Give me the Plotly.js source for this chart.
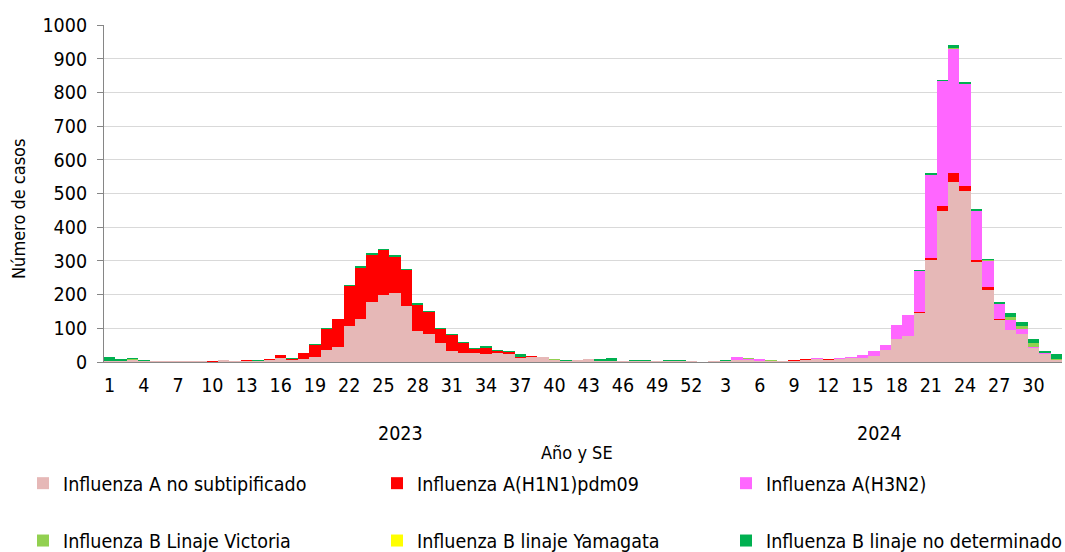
<!DOCTYPE html>
<html>
<head>
<meta charset="utf-8">
<script src="https://cdn.plot.ly/plotly-3.0.1.min.js"></script>
<style>html,body{margin:0;padding:0;background:#fff;}#chart{width:1065px;height:552px;}</style>
</head>
<body>
<div id="chart"></div>
<script>
// Semanas epidemiológicas (SE)
const semanas2023 = [1,2,3,4,5,6,7,8,9,10,11,12,13,14,15,16,17,18,19,20,21,22,23,24,25,26,27,28,29,30,31,32,33,34,35,36,37,38,39,40,41,42,43,44,45,46,47,48,49,50,51,52];
const semanas2024 = [1,2,3,4,5,6,7,8,9,10,11,12,13,14,15,16,17,18,19,20,21,22,23,24,25,26,27,28,29,30,31,32];
const anios = ["2023", "2024"];

// Series (número de casos)
const aNoSubtip = [4,3,7,3,3,3,2,2,2,1, 5,3,4,4,7,12,6,8,15,37, 45,107,128,177,199,205,167,93,82,57, 34,28,26,24,26,24,11,14,14,7, 4,5,8,2,4,2,3,3,2,4, 3,2,
                   1,2,3,5,5,4,4,2,4,7, 10,7,10,13,12,18,36,68,78,144, 302,448,533,507,298,214,124,96,84,42, 23,6];
const aH1N1 = [0,0,0,0,0,0,0,1,1,1, 0,1,2,0,2,8,4,19,36,61, 82,119,152,142,134,106,106,77,66,41, 47,28,13,18,7,6,3,4,0,0, 0,0,0,0,0,0,0,0,0,0, 0,0,
               0,0,0,0,0,0,0,0,1,1, 0,1,0,0,0,0,0,0,0,5, 7,15,27,15,5,8,4,0,0,0, 0,0];
const aH3N2 = [0,0,0,0,0,0,0,0,0,0, 0,0,0,0,0,0,0,0,0,0, 0,0,0,0,0,0,0,0,0,0, 0,0,0,0,0,0,0,0,0,0, 0,0,0,0,0,0,0,0,0,0, 0,0,
               0,0,0,10,5,4,0,1,1,0, 2,2,3,3,8,15,13,41,61,122, 246,371,370,303,145,78,43,28,14,3, 3,0];
const bVictoria = [0,0,1,0,0,0,0,0,0,0, 1,0,0,0,0,0,0,0,0,0, 0,0,0,0,0,0,0,0,0,0, 0,0,0,0,0,0,0,0,0,1, 0,1,0,0,0,0,0,0,0,0, 0,0,
                   0,0,0,0,2,0,2,0,0,0, 0,0,0,0,0,0,0,0,0,0, 0,0,3,0,0,2,1,10,8,10, 0,3];
const bYamagata = [0,0,0,0,0,0,0,0,0,0, 0,0,0,0,0,0,0,0,0,0, 0,0,0,0,0,0,0,0,0,0, 0,0,0,0,0,0,0,0,0,0, 0,0,0,0,0,0,0,0,0,0, 0,0,
                   0,0,0,0,0,0,0,0,0,0, 0,0,0,0,0,0,0,0,0,0, 0,0,0,0,0,0,0,0,0,0, 0,0];
const bNoDet = [11,6,3,3,1,1,1,0,0,1, 1,0,0,2,0,1,1,1,3,3, 2,2,6,4,2,6,3,4,3,4, 2,3,4,5,3,3,9,1,1,0, 1,0,1,7,9,2,4,4,2,2, 2,1,
                0,1,3,0,0,0,0,0,0,0, 0,0,0,0,0,0,0,2,1,2, 6,3,7,6,5,3,7,10,13,14, 7,16];

const seriesNames = ["Influenza A no subtipificado","Influenza A(H1N1)pdm09","Influenza A(H3N2)",
                     "Influenza B Linaje Victoria","Influenza B linaje Yamagata","Influenza B linaje no determinado"];
const seriesColors = ["#E6B8B7","#FF0000","#FF66FF","#92D050","#FFFF00","#00B050"];

// categorías
const cats = semanas2023.map(s => anios[0] + "-" + s).concat(semanas2024.map(s => anios[1] + "-" + s));
const weekLabels = semanas2023.concat(semanas2024);
const tickvals = [], ticktext = [];
for (let i = 0; i < cats.length; i += 3) { tickvals.push(cats[i]); ticktext.push(String(weekLabels[i])); }

const font = "DejaVu Sans Condensed, DejaVu Sans, sans-serif";
const fs = 19.5;
const legendIds = ["legend", "legend2", "legend3"];
const values = [aNoSubtip, aH1N1, aH3N2, bVictoria, bYamagata, bNoDet];
const traces = values.map((v, k) => ({
  type: "bar", x: cats, y: v, name: seriesNames[k],
  marker: {color: seriesColors[k], line: {width: 0}},
  legend: legendIds[k % 3], legendgroup: "g" + k,
  hoverinfo: "skip"
}));

function legendAt(px) {
  return {
    orientation: "v", x: (px - 104) / 958, xanchor: "left", y: (362 - 464) / 337, yanchor: "top",
    tracegroupgap: 29, traceorder: "grouped",
    font: {family: font, size: fs, color: "#000"}, bgcolor: "rgba(0,0,0,0)", borderwidth: 0
  };
}

const n23 = semanas2023.length, n24 = semanas2024.length;
const layout = {
  width: 1065, height: 552,
  margin: {l: 104, r: 3, t: 25, b: 190, autoexpand: false},
  paper_bgcolor: "#fff", plot_bgcolor: "#fff",
  barmode: "stack", bargap: 0,
  font: {family: font, size: fs, color: "#000"},
  xaxis: {
    type: "category", categoryorder: "array", categoryarray: cats,
    range: [-0.5, cats.length - 0.5],
    tickvals: tickvals, ticktext: ticktext, tickangle: 0,
    ticks: "", showgrid: false, zeroline: false,
    showline: true, linecolor: "#868686", linewidth: 1,
    tickfont: {family: font, size: fs, color: "#000"},
    ticklabelstandoff: 6
  },
  yaxis: {
    range: [0, 1000], dtick: 100, tick0: 0,
    gridcolor: "#D9D9D9", gridwidth: 1, zeroline: false,
    showline: true, linecolor: "#868686", linewidth: 1,
    ticks: "outside", ticklen: 6, tickcolor: "#868686",
    tickfont: {family: font, size: fs, color: "#000"},
    ticklabelstandoff: 6
  },
  annotations: [
    {text: anios[0], xref: "x", yref: "paper", x: (n23 - 1) / 2, y: (362 - 433) / 337, showarrow: false, yanchor: "middle", font: {family: font, size: fs, color: "#000"}},
    {text: anios[1], xref: "x", yref: "paper", x: n23 + (n24 - 1) / 2, y: (362 - 433) / 337, showarrow: false, yanchor: "middle", font: {family: font, size: fs, color: "#000"}},
    {text: "Año y SE", xref: "paper", yref: "paper", x: (577 - 104) / 958, y: (362 - 453) / 337, showarrow: false, yanchor: "middle", font: {family: font, size: 18, color: "#000"}},
    {text: "Número de casos", xref: "paper", yref: "paper", x: (18 - 104) / 958, y: (362 - 209) / 337, textangle: -90, showarrow: false, xanchor: "center", yanchor: "middle", font: {family: font, size: 18, color: "#000"}}
  ],
  legend: legendAt(23),
  legend2: legendAt(377),
  legend3: legendAt(726),
  showlegend: true
};

Plotly.newPlot("chart", traces, layout, {staticPlot: true, displayModeBar: false});
</script>
</body>
</html>
